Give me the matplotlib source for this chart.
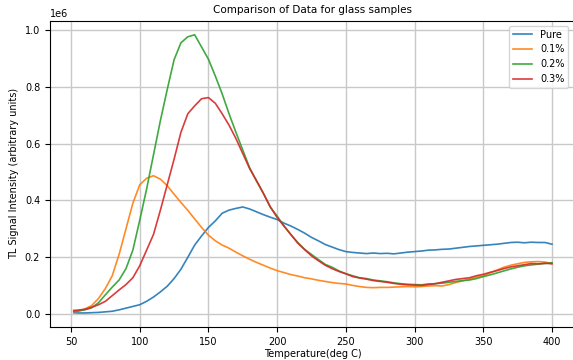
import matplotlib
matplotlib.use('Agg')
import matplotlib.pyplot as plt

# temperature axis (deg C)
temperature = [52] + list(range(55, 401, 5))

# TL signal, in units of 1e6
pure = [0.005, 0.004, 0.004, 0.005, 0.006, 0.008, 0.010, 0.015, 0.021, 0.027,
        0.033, 0.045, 0.060, 0.078, 0.098, 0.125, 0.158, 0.200, 0.243, 0.275,
        0.305, 0.328, 0.355, 0.366, 0.372, 0.377, 0.370, 0.360, 0.350, 0.341,
        0.333, 0.320, 0.310, 0.298, 0.285, 0.270, 0.258, 0.245, 0.236, 0.227,
        0.220, 0.217, 0.215, 0.213, 0.215, 0.213, 0.214, 0.212, 0.215, 0.218,
        0.220, 0.222, 0.225, 0.226, 0.228, 0.229, 0.232, 0.235, 0.238, 0.240,
        0.242, 0.244, 0.246, 0.249, 0.252, 0.253, 0.251, 0.253, 0.252, 0.252,
        0.246]
dop_01 = [0.008, 0.010, 0.018, 0.030, 0.055, 0.090, 0.135, 0.210, 0.300, 0.390,
          0.455, 0.478, 0.487, 0.475, 0.452, 0.422, 0.393, 0.365, 0.335, 0.305,
          0.278, 0.258, 0.243, 0.232, 0.218, 0.205, 0.193, 0.182, 0.172, 0.162,
          0.153, 0.146, 0.139, 0.134, 0.128, 0.124, 0.119, 0.115, 0.111, 0.108,
          0.106, 0.101, 0.097, 0.094, 0.093, 0.094, 0.094, 0.095, 0.096, 0.097,
          0.096, 0.097, 0.099, 0.100, 0.099, 0.104, 0.111, 0.117, 0.123, 0.130,
          0.135, 0.145, 0.155, 0.165, 0.172, 0.177, 0.182, 0.184, 0.185, 0.183,
          0.178]
dop_02 = [0.009, 0.011, 0.015, 0.022, 0.040, 0.068, 0.095, 0.120, 0.160, 0.225,
          0.330, 0.440, 0.560, 0.680, 0.790, 0.895, 0.955, 0.976, 0.983, 0.940,
          0.897, 0.838, 0.775, 0.705, 0.640, 0.577, 0.515, 0.468, 0.425, 0.376,
          0.345, 0.310, 0.280, 0.252, 0.228, 0.210, 0.192, 0.175, 0.165, 0.152,
          0.142, 0.135, 0.128, 0.125, 0.120, 0.117, 0.114, 0.110, 0.107, 0.105,
          0.104, 0.103, 0.106, 0.107, 0.109, 0.112, 0.115, 0.118, 0.120, 0.125,
          0.132, 0.138, 0.145, 0.152, 0.159, 0.165, 0.170, 0.173, 0.176, 0.178,
          0.181]
dop_03 = [0.013, 0.014, 0.017, 0.024, 0.033, 0.045, 0.065, 0.085, 0.104, 0.128,
          0.170, 0.225, 0.280, 0.365, 0.455, 0.545, 0.640, 0.705, 0.733, 0.758,
          0.762, 0.742, 0.705, 0.665, 0.618, 0.565, 0.512, 0.470, 0.425, 0.378,
          0.340, 0.310, 0.280, 0.250, 0.227, 0.205, 0.188, 0.172, 0.160, 0.150,
          0.142, 0.132, 0.127, 0.123, 0.118, 0.115, 0.112, 0.108, 0.105, 0.103,
          0.102, 0.101, 0.104, 0.107, 0.112, 0.117, 0.122, 0.125, 0.128, 0.135,
          0.140, 0.147, 0.153, 0.160, 0.166, 0.170, 0.174, 0.178, 0.177, 0.179,
          0.177]

series = [('Pure', pure), ('0.1%', dop_01), ('0.2%', dop_02), ('0.3%', dop_03)]

plt.rcParams['font.size'] = 7

fig = plt.figure(figsize=(5.73, 3.6), dpi=100)
# axes run past the right edge, the source picture is cropped there
ax = fig.add_axes([0.087, 0.092, 0.918, 0.85])

for name, vals in series:
    ax.plot(temperature, [v * 1e6 for v in vals], label=name,
            linewidth=1.2, alpha=0.9)

ax.set_title('Comparison of Data for glass samples', fontsize=7.5)
ax.set_xlabel('Temperature(deg C)', labelpad=2)
ax.set_ylabel('TL Signal Intensity (arbitrary units)', labelpad=4)
ax.grid(True, linewidth=1.0, color='#c8c8c8')
ax.set_xticks([50, 100, 150, 200, 250, 300, 350, 400])
ax.set_yticks([0, 0.2e6, 0.4e6, 0.6e6, 0.8e6, 1.0e6])
ax.tick_params(labelsize=7)
ax.legend(loc='upper right', fontsize=7, bbox_to_anchor=(0.995, 1.0))

fig.savefig('out.png', dpi=100)
